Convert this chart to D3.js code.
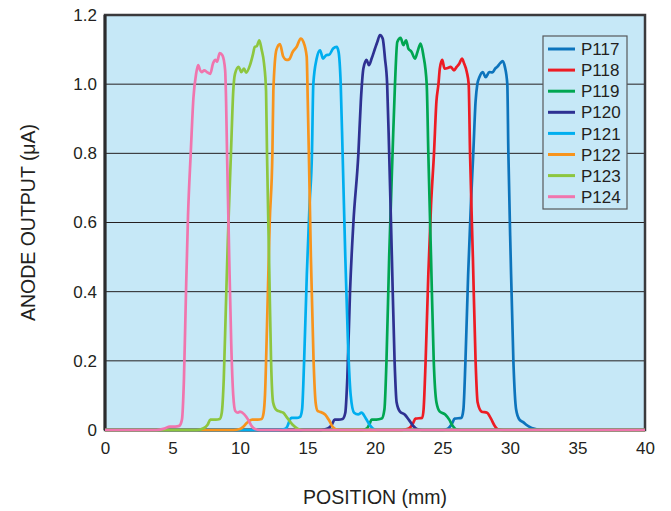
<!DOCTYPE html>
<html>
<head>
<meta charset="utf-8">
<script src="https://cdn.jsdelivr.net/npm/d3@7"></script>
<style>
  body { margin: 0; background: #fff; }
  text { font-family: "Liberation Sans", Arial, Helvetica, sans-serif; fill: #231f20; }
</style>
</head>
<body>
<div id="chart"></div>
<script>
var margin = { top: 15, right: 26, bottom: 81, left: 105 }
var width = 671 - margin.left - margin.right
var height = 511 - margin.top - margin.bottom

var xTicks = [0, 5, 10, 15, 20, 25, 30, 35, 40]
var yTicks = [0, 0.2, 0.4, 0.6, 0.8, 1.0, 1.2]
var yTickLabels = ["0", "0.2", "0.4", "0.6", "0.8", "1.0", "1.2"]

var names = ["P117", "P118", "P119", "P120", "P121", "P122", "P123", "P124"]
var colors = ["#0d74bc", "#ed1c24", "#00a651", "#2e3192", "#00aeef", "#f7941d", "#8dc63f", "#f075ad"]

// position (mm), anode output (uA)
var p117 = [[0,0],[25.0,0],[25.4,0.004],[25.7,0.018],[25.9,0.033],[26.4,0.035],[26.55,0.06],[26.7,0.2],[26.9,0.45],[27.1,0.65],[27.28,0.8],[27.45,0.95],[27.58,1.0],[27.73,1.02],[27.98,1.035],[28.2,1.02],[28.47,1.035],[28.7,1.034],[28.9,1.045],[29.05,1.05],[29.26,1.06],[29.46,1.067],[29.62,1.05],[29.8,1.0],[29.88,0.8],[30.05,0.5],[30.25,0.2],[30.45,0.06],[30.7,0.03],[31.0,0.022],[31.2,0.015],[31.6,0.006],[32.0,0.002],[32.5,0],[40,0]]
var p118 = [[0,0],[22.0,0],[22.5,0.004],[22.8,0.018],[23.0,0.033],[23.5,0.035],[23.6,0.06],[23.75,0.2],[23.95,0.45],[24.15,0.65],[24.37,0.8],[24.55,0.95],[24.7,1.0],[24.8,1.045],[24.98,1.07],[25.15,1.045],[25.4,1.047],[25.6,1.05],[25.85,1.04],[26.05,1.05],[26.25,1.06],[26.44,1.074],[26.6,1.06],[26.8,1.035],[26.94,1.0],[27.04,0.8],[27.25,0.5],[27.45,0.2],[27.6,0.08],[27.9,0.053],[28.3,0.05],[28.6,0.032],[28.85,0.013],[29.1,0.002],[29.5,0],[40,0]]
var p119 = [[0,0],[19.0,0],[19.4,0.005],[19.6,0.018],[19.75,0.03],[20.1,0.03],[20.5,0.033],[20.7,0.06],[20.85,0.2],[21.05,0.5],[21.3,0.8],[21.48,1.0],[21.65,1.122],[21.9,1.134],[22.1,1.113],[22.3,1.127],[22.47,1.103],[22.7,1.094],[22.96,1.074],[23.15,1.094],[23.38,1.117],[23.58,1.084],[23.83,1.0],[23.95,0.8],[24.15,0.5],[24.35,0.2],[24.55,0.08],[24.8,0.053],[25.2,0.045],[25.5,0.03],[25.75,0.012],[26.0,0.002],[26.4,0],[40,0]]
var p120 = [[0,0],[16.0,0],[16.5,0.004],[16.8,0.015],[17.0,0.03],[17.3,0.03],[17.6,0.032],[17.8,0.05],[17.95,0.15],[18.15,0.4],[18.4,0.6],[18.77,0.8],[18.95,0.95],[19.14,1.045],[19.38,1.07],[19.55,1.055],[19.75,1.074],[20.0,1.103],[20.17,1.122],[20.37,1.142],[20.57,1.132],[20.74,1.074],[20.9,1.0],[21.05,0.8],[21.25,0.5],[21.45,0.2],[21.6,0.08],[21.85,0.053],[22.2,0.045],[22.5,0.03],[22.8,0.013],[23.1,0.003],[23.5,0],[40,0]]
var p121 = [[0,0],[12.8,0],[13.3,0.003],[13.5,0.01],[13.65,0.025],[13.8,0.035],[14.2,0.035],[14.45,0.038],[14.6,0.06],[14.75,0.2],[14.95,0.45],[15.15,0.65],[15.33,0.8],[15.43,1.0],[15.68,1.074],[15.93,1.098],[16.15,1.074],[16.4,1.084],[16.6,1.085],[16.9,1.103],[17.16,1.108],[17.3,1.094],[17.46,1.0],[17.6,0.8],[17.8,0.5],[18.0,0.25],[18.2,0.1],[18.45,0.05],[18.75,0.045],[19.0,0.05],[19.3,0.035],[19.6,0.015],[19.85,0.004],[20.2,0],[40,0]]
var p122 = [[0,0],[9.5,0],[10.0,0.003],[10.2,0.008],[10.5,0.02],[10.9,0.03],[11.3,0.03],[11.6,0.032],[11.75,0.05],[11.85,0.1],[12.0,0.3],[12.2,0.6],[12.4,0.8],[12.47,0.98],[12.7,1.1],[12.96,1.116],[13.2,1.08],[13.46,1.07],[13.65,1.072],[13.9,1.093],[14.2,1.108],[14.5,1.132],[14.7,1.122],[14.94,1.08],[15.02,0.95],[15.1,0.8],[15.25,0.5],[15.45,0.2],[15.6,0.08],[15.75,0.055],[15.9,0.053],[16.3,0.045],[16.6,0.028],[16.85,0.01],[17.1,0.002],[17.5,0],[40,0]]
var p123 = [[0,0],[6.8,0],[7.3,0.005],[7.6,0.015],[7.8,0.03],[8.2,0.03],[8.5,0.032],[8.65,0.05],[8.8,0.15],[8.95,0.35],[9.1,0.55],[9.33,0.8],[9.5,0.98],[9.63,1.03],[9.9,1.05],[10.1,1.035],[10.3,1.045],[10.45,1.033],[10.74,1.055],[10.94,1.083],[11.1,1.108],[11.25,1.11],[11.43,1.127],[11.6,1.1],[11.78,1.06],[11.93,0.98],[12.0,0.8],[12.15,0.5],[12.3,0.2],[12.45,0.08],[12.7,0.058],[13.0,0.053],[13.2,0.05],[13.5,0.035],[13.9,0.015],[14.3,0.003],[14.7,0],[40,0]]
var p124 = [[0,0],[3.8,0],[4.4,0.004],[4.8,0.01],[5.2,0.01],[5.5,0.012],[5.7,0.03],[5.85,0.15],[6.0,0.4],[6.15,0.62],[6.35,0.8],[6.55,0.96],[6.75,1.03],[6.9,1.055],[7.05,1.04],[7.16,1.035],[7.35,1.04],[7.55,1.035],[7.8,1.03],[8.0,1.06],[8.2,1.07],[8.3,1.065],[8.5,1.09],[8.7,1.083],[8.9,1.04],[8.97,0.95],[9.04,0.8],[9.2,0.5],[9.35,0.25],[9.5,0.1],[9.65,0.055],[9.85,0.05],[10.0,0.053],[10.3,0.046],[10.6,0.03],[10.85,0.012],[11.1,0.003],[11.5,0],[40,0]]

var seriesData = [p117, p118, p119, p120, p121, p122, p123, p124]

var x = d3.scaleLinear().domain([0, 40]).range([0, width])
var y = d3.scaleLinear().domain([0, 1.2]).range([height, 0])

var line = d3.line()
    .x(function (d) { return x(d[0]); })
    .y(function (d) { return y(d[1]); })
    .curve(d3.curveMonotoneX)

var svg = d3.select("#chart")
    .append("svg")
    .attr("width", 671)
    .attr("height", 511)

var g = svg.append("g")
    .attr("transform", "translate(" + margin.left + "," + margin.top + ")")

// plot background
g.append("rect")
    .attr("width", width)
    .attr("height", height)
    .attr("fill", "#c6e8f7")

// horizontal grid
g.selectAll(".grid")
    .data(yTicks.filter(function (d) { return d > 0 && d < 1.2 }))
    .enter().append("line")
    .attr("x1", 0)
    .attr("x2", width)
    .attr("y1", function (d) { return y(d) })
    .attr("y2", function (d) { return y(d) })
    .attr("stroke", "#231f20")
    .attr("stroke-width", 1)

// frame
g.append("rect")
    .attr("width", width)
    .attr("height", height)
    .attr("fill", "none")
    .attr("stroke", "#3a3a3c")
    .attr("stroke-width", 2.5)
g.append("line")
    .attr("x1", 0).attr("x2", 0)
    .attr("y1", 0).attr("y2", height)
    .attr("stroke", "#2b2b2d")
    .attr("stroke-width", 3)

// curves (pink drawn last, lies on the baseline)
g.selectAll(".curve")
    .data(seriesData)
    .enter().append("path")
    .attr("class", "curve")
    .attr("d", line)
    .attr("fill", "none")
    .attr("stroke", function (d, i) { return colors[i] })
    .attr("stroke-width", 2.7)
    .attr("stroke-linejoin", "round")

// axes (labels only)
var xAxis = g.append("g")
    .attr("transform", "translate(0," + height + ")")
    .call(d3.axisBottom(x).tickValues(xTicks).tickSize(0).tickPadding(12).tickFormat(d3.format("d")))
xAxis.select(".domain").remove()
xAxis.selectAll("text").attr("font-size", 17).attr("fill", "#231f20")
    .attr("font-family", "Liberation Sans, Arial, sans-serif")

var yAxis = g.append("g")
    .call(d3.axisLeft(y).tickValues(yTicks).tickSize(0).tickPadding(8)
        .tickFormat(function (d, i) { return yTickLabels[i] }))
yAxis.select(".domain").remove()
yAxis.selectAll("text").attr("font-size", 17).attr("fill", "#231f20")
    .attr("font-family", "Liberation Sans, Arial, sans-serif")

// axis titles
svg.append("text")
    .attr("x", margin.left + width / 2)
    .attr("y", 504)
    .attr("text-anchor", "middle")
    .attr("font-size", 19.5)
    .text("POSITION (mm)")

svg.append("text")
    .attr("transform", "translate(35," + (margin.top + height / 2) + ") rotate(-90)")
    .attr("text-anchor", "middle")
    .attr("font-size", 19.5)
    .text("ANODE OUTPUT (μA)")

// legend
var legend = svg.append("g")
    .attr("transform", "translate(543,36)")
legend.append("rect")
    .attr("width", 84)
    .attr("height", 173)
    .attr("fill", "#c6e8f7")
    .attr("stroke", "#58595b")
    .attr("stroke-width", 1.2)

var item = legend.selectAll(".item")
    .data(names)
    .enter().append("g")
    .attr("transform", function (d, i) { return "translate(0," + (13 + i * 21.1) + ")" })
item.append("line")
    .attr("x1", 5).attr("x2", 32)
    .attr("stroke", function (d, i) { return colors[i] })
    .attr("stroke-width", 3)
item.append("text")
    .attr("x", 38)
    .attr("dy", "0.36em")
    .attr("font-size", 17)
    .text(function (d) { return d })
</script>
</body>
</html>
